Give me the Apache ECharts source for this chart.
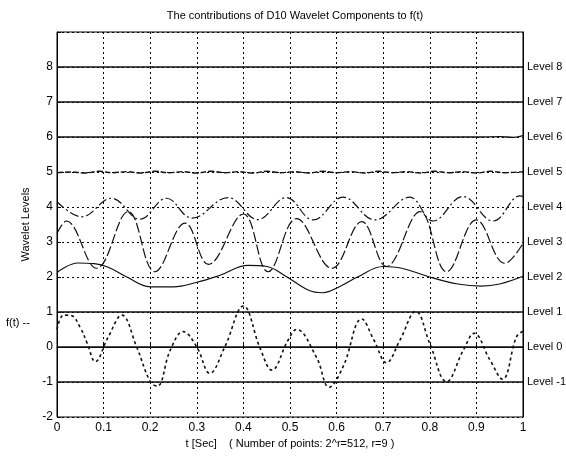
<!DOCTYPE html>
<html>

<head>
  <meta charset="utf-8" />
  <title></title>
  <script src="https://cdn.jsdelivr.net/npm/echarts@6/dist/echarts.min.js"></script>
  <style>
    body { margin: 0; background: #fff; }
  </style>
  <script>
    // values: [t, level]
    var xTicks = [0, 0.1, 0.2, 0.3, 0.4, 0.5, 0.6, 0.7, 0.8, 0.9, 1];
    var levelNames = [-1, 0, 1, 2, 3, 4, 5, 6, 7, 8];

    var level8 = [[0, 8], [1, 8]];
    var level7 = [[0, 7], [1, 7]];
    var level6 = [[0, 6], [0.9, 6], [0.95, 6.01], [0.98, 5.99], [1, 6.04]];
    var level5 = [[0, 4.98], [0.03, 5.0], [0.06, 4.97], [0.09, 5.02], [0.12, 4.98], [0.15, 5.01],
      [0.18, 4.97], [0.21, 5.02], [0.24, 4.98], [0.27, 5.01], [0.3, 4.97], [0.33, 5.02],
      [0.36, 4.98], [0.39, 5.01], [0.42, 4.97], [0.45, 5.02], [0.48, 4.98], [0.51, 5.01],
      [0.54, 4.97], [0.57, 5.02], [0.6, 4.98], [0.63, 5.01], [0.66, 4.97], [0.69, 5.02],
      [0.72, 4.98], [0.75, 5.01], [0.78, 4.97], [0.81, 5.02], [0.84, 4.98], [0.87, 5.01],
      [0.9, 4.97], [0.93, 5.02], [0.96, 4.98], [1, 5.01]];
    var level4 = [[0, 4.15], [0.053, 3.72], [0.117, 4.25], [0.178, 3.65], [0.235, 4.25],
      [0.29, 3.68], [0.367, 4.27], [0.431, 3.64], [0.492, 4.27], [0.55, 3.63], [0.614, 4.28],
      [0.682, 3.63], [0.757, 4.28], [0.807, 3.6], [0.871, 4.3], [0.936, 3.6], [0.994, 4.32], [1, 4.3]];
    var level3 = [[0, 3.25], [0.02, 3.6], [0.085, 2.25], [0.153, 3.87], [0.21, 2.15],
      [0.275, 3.54], [0.325, 2.36], [0.4, 3.8], [0.453, 2.15], [0.514, 3.67], [0.59, 2.25],
      [0.654, 3.58], [0.707, 2.3], [0.779, 3.87], [0.836, 2.15], [0.9, 3.63], [0.961, 2.39], [1, 2.96]];
    var level2 = [[0, 2.13], [0.045, 2.4], [0.08, 2.38], [0.11, 2.28], [0.15, 2.0], [0.2, 1.72],
      [0.25, 1.72], [0.3, 1.85], [0.35, 2.05], [0.41, 2.33], [0.45, 2.3], [0.49, 2.03],
      [0.54, 1.62], [0.57, 1.55], [0.61, 1.75], [0.645, 2.0], [0.7, 2.3], [0.74, 2.25],
      [0.8, 2.0], [0.86, 1.8], [0.91, 1.74], [0.95, 1.8], [1, 2.02]];
    var level1 = [[0, 1], [1, 1]];
    var level0 = [[0, 0], [1, 0]];
    var levelM1 = [[0, -1], [1, -1]];
    var ft = [[0, 0.5], [0.014, 0.91], [0.03, 0.9], [0.05, 0.55], [0.065, 0.1], [0.082, -0.42],
      [0.11, 0.29], [0.139, 0.91], [0.171, 0.0], [0.2, -0.99], [0.215, -1.12], [0.243, -0.09],
      [0.271, 0.44], [0.3, 0.0], [0.328, -0.75], [0.36, 0.0], [0.4, 1.17], [0.436, -0.04],
      [0.461, -0.66], [0.496, 0.2], [0.514, 0.5], [0.557, -0.3], [0.584, -1.15], [0.614, -0.56],
      [0.654, 0.8], [0.68, 0.2], [0.707, -0.45], [0.736, 0.2], [0.77, 1.02], [0.8, 0.1],
      [0.836, -0.99], [0.872, -0.09], [0.895, 0.39], [0.929, -0.37], [0.956, -0.92],
      [0.986, 0.29], [1, 0.45]];
  </script>
</head>

<body>
  <div id="chart" style="width: 566px;height:457px;"></div>
  <script type="text/javascript">
    var chart = echarts.init(document.getElementById('chart'));
    var font = 'Arial, "Liberation Sans", sans-serif';

    function line(data, type, width) {
      return {
        type: 'line', data: data, smooth: 0.4, showSymbol: false, symbol: 'none',
        yAxisIndex: 0,
        lineStyle: { color: '#111', width: width || 1.2, type: type || 'solid' }
      };
    }

    option = {
      animation: false,
      backgroundColor: '#fff',
      title: {
        text: 'The contributions of D10 Wavelet Components to f(t)',
        left: 290, top: 5, textAlign: 'center',
        textStyle: { fontFamily: font, fontSize: 11, fontWeight: 'normal', color: '#000' }
      },
      grid: {
        left: 57, right: 43, top: 32, bottom: 40,
        outerBoundsMode: 'none', containLabel: false,
        show: true, borderColor: '#000', borderWidth: 1
      },
      graphic: [{
        type: 'text', left: 6, top: 317,
        style: { text: 'f(t) --', fontFamily: font, fontSize: 11, fill: '#000' }
      }],
      xAxis: {
        type: 'value', min: 0, max: 1, interval: 0.1,
        name: 't [Sec]    ( Number of points: 2^r=512, r=9 )',
        nameLocation: 'middle', nameGap: 21,
        nameTextStyle: { fontFamily: font, fontSize: 11, color: '#000' },
        axisLine: { lineStyle: { color: '#000' } },
        axisTick: { inside: true, length: 4, lineStyle: { color: '#000' } },
        axisLabel: {
          fontFamily: font, fontSize: 12, color: '#000', margin: 5,
          formatter: function (v) { return xTicks.indexOf(Math.round(v * 10) / 10) >= 0 ? String(Math.round(v * 10) / 10) : ''; }
        },
        splitLine: { show: true, lineStyle: { color: '#000', type: [2, 3], width: 1 } }
      },
      yAxis: [{
        type: 'value', min: -2, max: 9, interval: 1,
        name: 'Wavelet Levels', nameLocation: 'middle', nameGap: 24,
        nameTextStyle: { fontFamily: font, fontSize: 11, color: '#000' },
        axisLine: { show: true, lineStyle: { color: '#000' } },
        axisTick: { inside: true, length: 4, lineStyle: { color: '#000' } },
        axisLabel: {
          fontFamily: font, fontSize: 12, color: '#000', margin: 4,
          formatter: function (v) { return v === 9 ? '' : String(v); }
        },
        splitLine: { show: true, lineStyle: { color: '#000', type: [2, 3], width: 1 } }
      }, {
        type: 'value', min: -2, max: 9, interval: 1, position: 'right',
        axisLine: { show: true, lineStyle: { color: '#000' } },
        axisTick: { show: false },
        splitLine: { show: false },
        axisLabel: {
          fontFamily: font, fontSize: 11, color: '#000', margin: 4,
          formatter: function (v) { return levelNames.indexOf(v) >= 0 ? 'Level ' + v : ''; }
        }
      }],
      series: [
        line(level8, 'solid', 1.3),
        line(level7, 'solid', 1.3),
        line(level6, 'solid', 1.3),
        line(level5, [6, 2], 1.4),
        line(level4, [9, 3, 2, 3], 1.2),
        line(level3, [10, 3], 1.2),
        line(level2, 'solid', 1.2),
        line(level1, 'solid', 1.5),
        line(level0, 'solid', 1.5),
        line(levelM1, 'solid', 1.5),
        line(ft, [3, 3], 1.6)
      ]
    };
    chart.setOption(option);

    window.onresize = function () {
      chart.resize();
    };
  </script>
</body>

</html>
